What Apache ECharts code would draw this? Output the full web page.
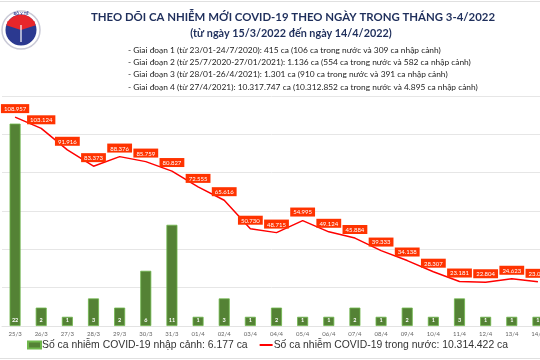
<!DOCTYPE html>
<html><head><meta charset="utf-8">
<script src="https://cdn.jsdelivr.net/npm/echarts@6/dist/echarts.min.js"></script>
<style>html,body{margin:0;padding:0;background:#fff}#c{width:540px;height:360px}</style>
</head><body><div id="c"></div>
<script>
const categories = ['25/3','26/3','27/3','28/3','29/3','30/3','31/3','01/4','02/4','03/4','04/4','05/4','06/4','07/4','08/4','09/4','10/4','11/4','12/4','13/4','14/4'];
const importedCases = [22,2,1,3,2,6,11,1,3,1,2,1,1,2,1,2,1,3,1,1,1];
const domesticCases = [108957,103124,91916,83373,88376,85759,80827,72555,65616,50730,48715,54995,49124,45884,39333,34138,28307,23181,22804,24623,23026];
const titleText = 'THEO DÕI CA NHIỄM MỚI COVID-19 THEO NGÀY TRONG THÁNG 3-4/2022';
const subtitleText = '(từ ngày 15/3/2022 đến ngày 14/4/2022)';
const notes = [
  '- Giai đoạn 1 (từ 23/01-24/7/2020): 415 ca (106 ca trong nước và 309 ca nhập cảnh)',
  '- Giai đoạn 2 (từ 25/7/2020-27/01/2021): 1.136 ca (554 ca trong nước và 582 ca nhập cảnh)',
  '- Giai đoạn 3 (từ 28/01-26/4/2021): 1.301 ca (910 ca trong nước và 391 ca nhập cảnh)',
  '- Giai đoạn 4 (từ 27/4/2021): 10.317.747 ca (10.312.852 ca trong nước và 4.895 ca nhập cảnh)'
];
const legendNames = ['Số ca nhiễm COVID-19 nhập cảnh: 6.177 ca','Số ca nhiễm COVID-19 trong nước: 10.314.422 ca'];

const fmt = v => String(v).replace(/\B(?=(\d{3})+(?!\d))/g, '.');
const FONT = 'Lato';
const chart = echarts.init(document.getElementById('c'));
const graphics = [
  {type:'line', shape:{x1:0,y1:1.5,x2:540,y2:1.5}, style:{stroke:'#e0e0e0',lineWidth:1}},
  {type:'line', shape:{x1:0,y1:358.5,x2:540,y2:358.5}, style:{stroke:'#e0e0e0',lineWidth:1}},
  {type:'circle', shape:{cx:21,cy:30,r:19}, style:{fill:'#fff',stroke:'#c9c9d6',lineWidth:1.5}},
  {type:'circle', shape:{cx:21,cy:30,r:15.5}, style:{fill:'#2b3990'}},
  {type:'sector', shape:{cx:21,cy:30,r:15.5,r0:0,startAngle:Math.PI*1.1,endAngle:Math.PI*1.9}, style:{fill:'#e8262b'}},
  {type:'rect', shape:{x:7.5,y:21,width:27,height:3}, style:{fill:'#e8262b'}},
  {type:'text', x:21, y:13.5, style:{text:'BỘ Y TẾ', fill:'#2b3990', font:'bold 4px '+FONT, align:'center', verticalAlign:'middle'}},
  {type:'line', shape:{x1:21,y1:25,x2:21,y2:42}, style:{stroke:'#fff',lineWidth:1.2}},
  {type:'text', x:293, y:17, style:{text:titleText, fill:'#1f2f5c', font:'bold 11.4px '+FONT, align:'center', verticalAlign:'middle'}},
  {type:'text', x:291, y:34, style:{text:subtitleText, fill:'#1f2f5c', font:'bold 10.8px '+FONT, align:'center', verticalAlign:'middle'}}
];
notes.forEach((t,i)=>graphics.push({type:'text', x:128, y:50+i*12.3, style:{text:t, fill:'#222', font:'8.4px '+FONT, verticalAlign:'middle'}}));

chart.setOption({
  animation:false,
  textStyle:{fontFamily:FONT},
  graphic: graphics,
  legend:{
    bottom:5, left:22, width:540, itemWidth:13, itemHeight:7, itemGap:12,
    textStyle:{fontSize:10.4, color:'#333', padding:[0,0,0,-4], fontFamily:'Liberation Sans'},
    data:[{name:legendNames[0], icon:'rect'},{name:legendNames[1], icon:'path://M0,0H20V3H0Z'}]
  },
  grid:{left:2, top:96, width:549, height:230, outerBoundsMode:'none'},
  xAxis:{
    type:'category', data:categories, boundaryGap:true,
    axisLine:{show:true, lineStyle:{color:'#e3e3e3'}}, axisTick:{show:false},
    axisLabel:{fontSize:6, color:'#666', margin:5, interval:0}
  },
  yAxis:[
    {type:'value', min:0, max:120000, interval:20000, axisLabel:{show:false}, axisLine:{show:false}, axisTick:{show:false},
     splitLine:{lineStyle:{color:'#e6e6e6'}}},
    {type:'value', min:0, max:25, interval:5, axisLabel:{show:false}, axisLine:{show:false}, axisTick:{show:false}, splitLine:{show:false}}
  ],
  series:[
    {name:legendNames[0], type:'bar', yAxisIndex:1, data:importedCases, barWidth:11,
     itemStyle:{color:'#548235', borderColor:'#70b84c', borderWidth:0.8},
     label:{show:true, position:'insideBottom', distance:3, color:'#fff', fontSize:5.5, fontWeight:'bold'}},
    {name:legendNames[1], type:'line', yAxisIndex:0, data:domesticCases, symbol:'circle', symbolSize:0.1, showSymbol:true, z:5,
     lineStyle:{color:'#ff0000', width:1.5}, itemStyle:{color:'#ff0000'},
     labelLayout:{hideOverlap:false},
     label:{show:true, position:'top', distance:4, formatter:p=>fmt(p.value), color:'#fff', fontSize:6,
       backgroundColor:'#ff3300', padding:[2,3,1,3]}}
  ]
});
</script></body></html>
